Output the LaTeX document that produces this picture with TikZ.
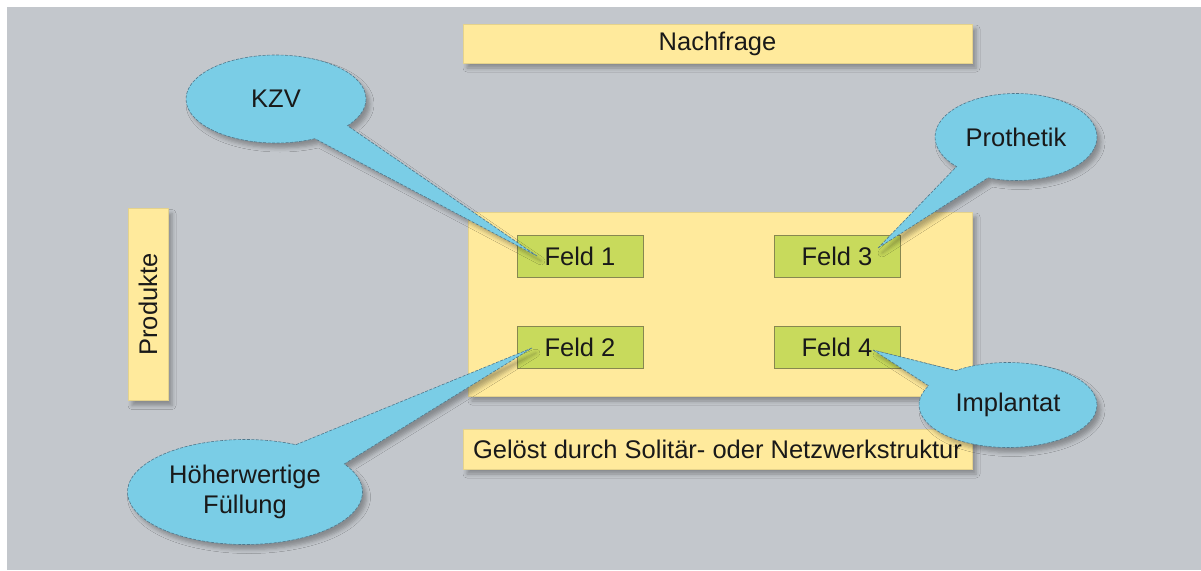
\documentclass[tikz,border=0pt]{standalone}
\usepackage{fontspec}
\setmainfont{Liberation Sans}
\usetikzlibrary{shapes.callouts,shadows.blur}

\definecolor{bg}{RGB}{195,199,204}
\definecolor{pad}{RGB}{255,234,156}
\definecolor{padline}{RGB}{228,210,140}
\definecolor{field}{RGB}{200,218,92}
\definecolor{fieldline}{RGB}{135,135,80}
\definecolor{bubble}{RGB}{122,205,230}
\definecolor{bubbleline}{RGB}{80,120,140}
\definecolor{ink}{RGB}{25,25,25}

\begin{document}
\begin{tikzpicture}[x=1pt,y=-1pt,
  every node/.style={font=\fontsize{25.5}{30}\selectfont, text=ink},
  softshadow/.style={blur shadow={shadow xshift=4pt, shadow yshift=-5pt,
      shadow opacity=30, shadow blur radius=4pt}},
  padbox/.style={fill=pad, draw=padline, line width=0.6pt, inner sep=0pt, softshadow},
  fieldbox/.style={fill=field, draw=fieldline, line width=0.8pt,
      minimum width=126pt, minimum height=42pt, inner sep=0pt},
  bubble/.style={ellipse callout, fill=bubble, draw=bubbleline, dashed,
      dash pattern=on 3pt off 1.5pt, line width=0.6pt, callout pointer arc=27,
      inner sep=0pt, align=center, softshadow}]

  \useasboundingbox (0,0) rectangle (1201,570);
  \fill[white] (0,0) rectangle (1201,570);
  \fill[bg] (7,7) rectangle (1201,570);

  % axis labels and the field area
  \node[padbox, minimum width=509pt, minimum height=39pt] (nachfrage) at (717.5,43.5) {Nachfrage};
  \node[padbox, minimum width=40pt, minimum height=192pt] (produkte) at (148,304.5) {};
  \node[rotate=90] (produktetext) at (produkte.center) {Produkte};
  \node[padbox, minimum width=504pt, minimum height=184pt] (area) at (720,304) {};
  \node[padbox, minimum width=509pt, minimum height=40pt] (loesung) at (717.5,449)
    {Gelöst durch Solitär- oder Netzwerkstruktur};

  % the four fields
  \node[fieldbox] (f1) at (580,256) {Feld 1};
  \node[fieldbox] (f2) at (580,347) {Feld 2};
  \node[fieldbox] (f3) at (837,256) {Feld 3};
  \node[fieldbox] (f4) at (837,347) {Feld 4};

  % callout tips inside the fields
  \coordinate (t1) at ([xshift=-43pt]f1.center);
  \coordinate (t2) at ([xshift=-48pt,yshift=-1pt]f2.center);
  \coordinate (t3) at ([xshift=41pt,yshift=8pt]f3.center);
  \coordinate (t4) at ([xshift=36pt,yshift=-3pt]f4.center);

  % speech bubbles
  \node[bubble, minimum width=180pt, minimum height=88pt,
        callout absolute pointer={(t1)}] (kzv) at (276,99) {KZV};
  \node[bubble, minimum width=162pt, minimum height=87pt,
        callout absolute pointer={(t3)}] (prothetik) at (1016,137) {Prothetik};
  \node[bubble, minimum width=178pt, minimum height=85pt,
        callout absolute pointer={(t4)}] (implantat) at (1008,405) {Implantat};
  \node[bubble, minimum width=235pt, minimum height=105pt, callout pointer arc=32,
        callout absolute pointer={(t2)}] (fuellung) at (245,492) {Höherwertige\\Füllung};
\end{tikzpicture}
\end{document}
